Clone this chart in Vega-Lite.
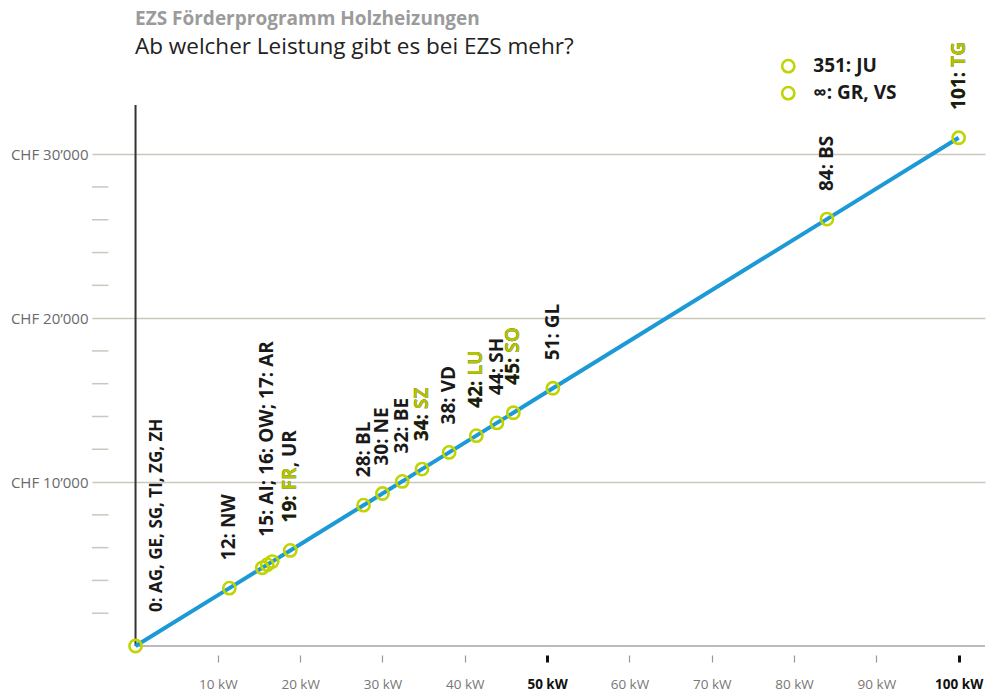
{
  "$schema": "https://vega.github.io/schema/vega-lite/v6.json",
  "width": 893,
  "height": 541,
  "autosize": {"type": "none"},
  "padding": {"left": 92, "top": 105, "right": 5, "bottom": 47},
  "background": "#ffffff",
  "config": {"font": "Open Sans", "view": {"stroke": null}},
  "title": {
    "text": "EZS Förderprogramm Holzheizungen",
    "subtitle": "Ab welcher Leistung gibt es bei EZS mehr?",
    "anchor": "start",
    "frame": "group",
    "dx": 43,
    "offset": -16,
    "font": "Open Sans",
    "fontSize": 19,
    "fontWeight": "bold",
    "color": "#9b9b9b",
    "subtitleFont": "Open Sans",
    "subtitleFontSize": 22.5,
    "subtitleColor": "#222222",
    "subtitlePadding": 7
  },
  "datasets": {
    "main": [
      {"kw": 0, "chf": 0, "label": "0: AG, GE, SG, TI, ZG, ZH", "g": "", "p": ""},
      {"kw": 11.4, "chf": 3530, "label": "12: NW", "g": "", "p": ""},
      {"kw": 15.4, "chf": 4770, "label": "", "g": "", "p": ""},
      {"kw": 16.0, "chf": 4960, "label": "15: AI; 16: OW; 17: AR", "g": "", "p": ""},
      {"kw": 16.6, "chf": 5150, "label": "", "g": "", "p": ""},
      {"kw": 18.8, "chf": 5830, "label": "19: FR, UR", "g": "19: FR", "p": "19: "},
      {"kw": 27.7, "chf": 8590, "label": "28: BL", "g": "", "p": ""},
      {"kw": 30.0, "chf": 9300, "label": "30: NE", "g": "", "p": ""},
      {"kw": 32.4, "chf": 10040, "label": "32: BE", "g": "", "p": ""},
      {"kw": 34.8, "chf": 10790, "label": "34: SZ", "g": "34: SZ", "p": "34: "},
      {"kw": 38.1, "chf": 11810, "label": "38: VD", "g": "", "p": ""},
      {"kw": 41.4, "chf": 12830, "label": "42: LU", "g": "42: LU", "p": "42: "},
      {"kw": 43.9, "chf": 13610, "label": "44: SH", "g": "", "p": ""},
      {"kw": 45.9, "chf": 14230, "label": "45: SO", "g": "45: SO", "p": "45: "},
      {"kw": 50.7, "chf": 15720, "label": "51: GL", "g": "", "p": ""},
      {"kw": 84.0, "chf": 26040, "label": "84: BS", "g": "", "p": ""},
      {"kw": 100.0, "chf": 31000, "label": "101: TG", "g": "101: TG", "p": "101: "}
    ],
    "minor": [
      {"chf": 2000}, {"chf": 4000}, {"chf": 6000}, {"chf": 8000},
      {"chf": 12000}, {"chf": 14000}, {"chf": 16000}, {"chf": 18000},
      {"chf": 22000}, {"chf": 24000}, {"chf": 26000}, {"chf": 28000}
    ],
    "legend": [
      {"kw": 79.3, "chf": 35370, "label": "351: JU"},
      {"kw": 79.3, "chf": 33720, "label": "∞: GR, VS"}
    ],
    "one": [{"item": 1}]
  },
  "layer": [
    {
      "data": {"name": "main"},
      "mark": {"type": "line", "color": "#1b9ad6", "strokeWidth": 4, "opacity": 0},
      "encoding": {
        "x": {
          "field": "kw", "type": "quantitative",
          "scale": {"domain": [-5.29, 103.2], "nice": false, "zero": false},
          "axis": {
            "values": [10, 20, 30, 40, 50, 60, 70, 80, 90, 100],
            "domain": false, "grid": false, "offset": 9, "tickSize": 7,
            "tickColor": {"condition": {"test": "datum.value % 50 === 0", "value": "#111111"}, "value": "#999999"},
            "tickWidth": {"condition": {"test": "datum.value % 50 === 0", "value": 3}, "value": 1.2},
            "labelFont": "Open Sans", "labelFontSize": 13.5, "labelPadding": 15,
            "labelColor": {"condition": {"test": "datum.value % 50 === 0", "value": "#111111"}, "value": "#777777"},
            "labelFontWeight": {"condition": {"test": "datum.value % 50 === 0", "value": "bold"}, "value": "normal"},
            "labelExpr": "datum.value + ' kW'",
            "title": null
          }
        },
        "y": {
          "field": "chf", "type": "quantitative",
          "scale": {"domain": [0, 33000], "nice": false},
          "axis": {
            "values": [10000, 20000, 30000],
            "domain": false, "ticks": false, "grid": true,
            "gridColor": "#cbc7bd", "gridWidth": 1.5,
            "labelFont": "Open Sans", "labelFontSize": 15, "labelColor": "#6a6a6a", "labelPadding": 4,
            "labelExpr": "'CHF ' + (datum.value / 1000) + '’000'",
            "title": null
          }
        },
        "order": {"field": "kw", "type": "quantitative"}
      }
    },
    {
      "data": {"name": "minor"},
      "mark": {"type": "rule", "color": "#cbc7bd", "strokeWidth": 1.5},
      "encoding": {
        "x": {"datum": -5.29, "type": "quantitative"},
        "x2": {"datum": -3.3},
        "y": {"field": "chf", "type": "quantitative"}
      }
    },
    {
      "data": {"name": "one"},
      "mark": {"type": "rule", "color": "#bbbbbb", "strokeWidth": 2},
      "encoding": {
        "x": {"datum": 0, "type": "quantitative"},
        "x2": {"datum": 103.2},
        "y": {"datum": 0, "type": "quantitative"}
      }
    },
    {
      "data": {"name": "one"},
      "mark": {"type": "rule", "color": "#333333", "strokeWidth": 2},
      "encoding": {
        "x": {"datum": 0, "type": "quantitative"},
        "y": {"datum": 0, "type": "quantitative"},
        "y2": {"datum": 33000}
      }
    },
    {
      "data": {"name": "main"},
      "mark": {"type": "line", "color": "#1b9ad6", "strokeWidth": 4},
      "encoding": {
        "x": {"field": "kw", "type": "quantitative"},
        "y": {"field": "chf", "type": "quantitative"},
        "order": {"field": "kw", "type": "quantitative"}
      }
    },
    {
      "data": {"name": "main"},
      "mark": {"type": "point", "shape": "circle", "filled": false, "stroke": "#bfd400", "strokeWidth": 2.6, "size": 150, "opacity": 1},
      "encoding": {
        "x": {"field": "kw", "type": "quantitative"},
        "y": {"field": "chf", "type": "quantitative"}
      }
    },
    {
      "data": {"name": "main"},
      "transform": [{"filter": "datum.kw > 0"}],
      "mark": {"type": "text", "angle": 270, "align": "left", "baseline": "middle", "dx": 28, "font": "Open Sans", "fontSize": 19, "fontWeight": "bold", "color": "#1a1a1a"},
      "encoding": {
        "x": {"field": "kw", "type": "quantitative"},
        "y": {"field": "chf", "type": "quantitative"},
        "text": {"field": "label"}
      }
    },
    {
      "data": {"name": "main"},
      "transform": [{"filter": "datum.kw > 0"}],
      "mark": {"type": "text", "angle": 270, "align": "left", "baseline": "middle", "dx": 28, "font": "Open Sans", "fontSize": 19, "fontWeight": "bold", "color": "#b3c400"},
      "encoding": {
        "x": {"field": "kw", "type": "quantitative"},
        "y": {"field": "chf", "type": "quantitative"},
        "text": {"field": "g"}
      }
    },
    {
      "data": {"name": "main"},
      "transform": [{"filter": "datum.kw > 0"}],
      "mark": {"type": "text", "angle": 270, "align": "left", "baseline": "middle", "dx": 28, "font": "Open Sans", "fontSize": 19, "fontWeight": "bold", "color": "#1a1a1a"},
      "encoding": {
        "x": {"field": "kw", "type": "quantitative"},
        "y": {"field": "chf", "type": "quantitative"},
        "text": {"field": "p"}
      }
    },
    {
      "data": {"name": "main"},
      "transform": [{"filter": "datum.kw == 0"}],
      "mark": {"type": "text", "angle": 270, "align": "left", "baseline": "middle", "dx": 34, "dy": 21, "font": "Open Sans", "fontSize": 17, "fontWeight": "bold", "color": "#1a1a1a"},
      "encoding": {
        "x": {"field": "kw", "type": "quantitative"},
        "y": {"field": "chf", "type": "quantitative"},
        "text": {"field": "label"}
      }
    },
    {
      "data": {"name": "legend"},
      "mark": {"type": "point", "shape": "circle", "filled": false, "stroke": "#bfd400", "strokeWidth": 2.6, "size": 150, "opacity": 1},
      "encoding": {
        "x": {"field": "kw", "type": "quantitative"},
        "y": {"field": "chf", "type": "quantitative"}
      }
    },
    {
      "data": {"name": "legend"},
      "mark": {"type": "text", "align": "left", "baseline": "middle", "dx": 25, "font": "Open Sans", "fontSize": 19, "fontWeight": "bold", "color": "#1a1a1a"},
      "encoding": {
        "x": {"field": "kw", "type": "quantitative"},
        "y": {"field": "chf", "type": "quantitative"},
        "text": {"field": "label"}
      }
    }
  ]
}
